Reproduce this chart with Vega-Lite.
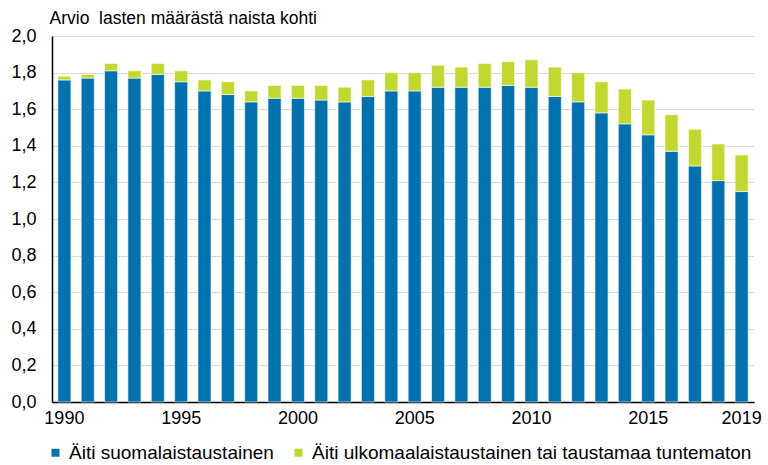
{
  "$schema": "https://vega.github.io/schema/vega-lite/v6.json",
  "autosize": "none",
  "width": 702,
  "height": 366,
  "padding": {"left": 52, "top": 36, "right": 14, "bottom": 63},
  "background": "white",
  "config": {
    "font": "Liberation Sans",
    "view": {"stroke": null}
  },
  "data": {
    "values": [
      {"year": 1990, "series": "Äiti suomalaistaustainen", "ord": 1, "value": 1.76},
      {"year": 1991, "series": "Äiti suomalaistaustainen", "ord": 1, "value": 1.77},
      {"year": 1992, "series": "Äiti suomalaistaustainen", "ord": 1, "value": 1.81},
      {"year": 1993, "series": "Äiti suomalaistaustainen", "ord": 1, "value": 1.77},
      {"year": 1994, "series": "Äiti suomalaistaustainen", "ord": 1, "value": 1.79},
      {"year": 1995, "series": "Äiti suomalaistaustainen", "ord": 1, "value": 1.75},
      {"year": 1996, "series": "Äiti suomalaistaustainen", "ord": 1, "value": 1.70},
      {"year": 1997, "series": "Äiti suomalaistaustainen", "ord": 1, "value": 1.68},
      {"year": 1998, "series": "Äiti suomalaistaustainen", "ord": 1, "value": 1.64},
      {"year": 1999, "series": "Äiti suomalaistaustainen", "ord": 1, "value": 1.66},
      {"year": 2000, "series": "Äiti suomalaistaustainen", "ord": 1, "value": 1.66},
      {"year": 2001, "series": "Äiti suomalaistaustainen", "ord": 1, "value": 1.65},
      {"year": 2002, "series": "Äiti suomalaistaustainen", "ord": 1, "value": 1.64},
      {"year": 2003, "series": "Äiti suomalaistaustainen", "ord": 1, "value": 1.67},
      {"year": 2004, "series": "Äiti suomalaistaustainen", "ord": 1, "value": 1.70},
      {"year": 2005, "series": "Äiti suomalaistaustainen", "ord": 1, "value": 1.70},
      {"year": 2006, "series": "Äiti suomalaistaustainen", "ord": 1, "value": 1.72},
      {"year": 2007, "series": "Äiti suomalaistaustainen", "ord": 1, "value": 1.72},
      {"year": 2008, "series": "Äiti suomalaistaustainen", "ord": 1, "value": 1.72},
      {"year": 2009, "series": "Äiti suomalaistaustainen", "ord": 1, "value": 1.73},
      {"year": 2010, "series": "Äiti suomalaistaustainen", "ord": 1, "value": 1.72},
      {"year": 2011, "series": "Äiti suomalaistaustainen", "ord": 1, "value": 1.67},
      {"year": 2012, "series": "Äiti suomalaistaustainen", "ord": 1, "value": 1.64},
      {"year": 2013, "series": "Äiti suomalaistaustainen", "ord": 1, "value": 1.58},
      {"year": 2014, "series": "Äiti suomalaistaustainen", "ord": 1, "value": 1.52},
      {"year": 2015, "series": "Äiti suomalaistaustainen", "ord": 1, "value": 1.46},
      {"year": 2016, "series": "Äiti suomalaistaustainen", "ord": 1, "value": 1.37},
      {"year": 2017, "series": "Äiti suomalaistaustainen", "ord": 1, "value": 1.29},
      {"year": 2018, "series": "Äiti suomalaistaustainen", "ord": 1, "value": 1.21},
      {"year": 2019, "series": "Äiti suomalaistaustainen", "ord": 1, "value": 1.15},
      {"year": 1990, "series": "Äiti ulkomaalaistaustainen tai taustamaa tuntematon", "ord": 2, "value": 0.02},
      {"year": 1991, "series": "Äiti ulkomaalaistaustainen tai taustamaa tuntematon", "ord": 2, "value": 0.02},
      {"year": 1992, "series": "Äiti ulkomaalaistaustainen tai taustamaa tuntematon", "ord": 2, "value": 0.04},
      {"year": 1993, "series": "Äiti ulkomaalaistaustainen tai taustamaa tuntematon", "ord": 2, "value": 0.04},
      {"year": 1994, "series": "Äiti ulkomaalaistaustainen tai taustamaa tuntematon", "ord": 2, "value": 0.06},
      {"year": 1995, "series": "Äiti ulkomaalaistaustainen tai taustamaa tuntematon", "ord": 2, "value": 0.06},
      {"year": 1996, "series": "Äiti ulkomaalaistaustainen tai taustamaa tuntematon", "ord": 2, "value": 0.06},
      {"year": 1997, "series": "Äiti ulkomaalaistaustainen tai taustamaa tuntematon", "ord": 2, "value": 0.07},
      {"year": 1998, "series": "Äiti ulkomaalaistaustainen tai taustamaa tuntematon", "ord": 2, "value": 0.06},
      {"year": 1999, "series": "Äiti ulkomaalaistaustainen tai taustamaa tuntematon", "ord": 2, "value": 0.07},
      {"year": 2000, "series": "Äiti ulkomaalaistaustainen tai taustamaa tuntematon", "ord": 2, "value": 0.07},
      {"year": 2001, "series": "Äiti ulkomaalaistaustainen tai taustamaa tuntematon", "ord": 2, "value": 0.08},
      {"year": 2002, "series": "Äiti ulkomaalaistaustainen tai taustamaa tuntematon", "ord": 2, "value": 0.08},
      {"year": 2003, "series": "Äiti ulkomaalaistaustainen tai taustamaa tuntematon", "ord": 2, "value": 0.09},
      {"year": 2004, "series": "Äiti ulkomaalaistaustainen tai taustamaa tuntematon", "ord": 2, "value": 0.10},
      {"year": 2005, "series": "Äiti ulkomaalaistaustainen tai taustamaa tuntematon", "ord": 2, "value": 0.10},
      {"year": 2006, "series": "Äiti ulkomaalaistaustainen tai taustamaa tuntematon", "ord": 2, "value": 0.12},
      {"year": 2007, "series": "Äiti ulkomaalaistaustainen tai taustamaa tuntematon", "ord": 2, "value": 0.11},
      {"year": 2008, "series": "Äiti ulkomaalaistaustainen tai taustamaa tuntematon", "ord": 2, "value": 0.13},
      {"year": 2009, "series": "Äiti ulkomaalaistaustainen tai taustamaa tuntematon", "ord": 2, "value": 0.13},
      {"year": 2010, "series": "Äiti ulkomaalaistaustainen tai taustamaa tuntematon", "ord": 2, "value": 0.15},
      {"year": 2011, "series": "Äiti ulkomaalaistaustainen tai taustamaa tuntematon", "ord": 2, "value": 0.16},
      {"year": 2012, "series": "Äiti ulkomaalaistaustainen tai taustamaa tuntematon", "ord": 2, "value": 0.16},
      {"year": 2013, "series": "Äiti ulkomaalaistaustainen tai taustamaa tuntematon", "ord": 2, "value": 0.17},
      {"year": 2014, "series": "Äiti ulkomaalaistaustainen tai taustamaa tuntematon", "ord": 2, "value": 0.19},
      {"year": 2015, "series": "Äiti ulkomaalaistaustainen tai taustamaa tuntematon", "ord": 2, "value": 0.19},
      {"year": 2016, "series": "Äiti ulkomaalaistaustainen tai taustamaa tuntematon", "ord": 2, "value": 0.20},
      {"year": 2017, "series": "Äiti ulkomaalaistaustainen tai taustamaa tuntematon", "ord": 2, "value": 0.20},
      {"year": 2018, "series": "Äiti ulkomaalaistaustainen tai taustamaa tuntematon", "ord": 2, "value": 0.20},
      {"year": 2019, "series": "Äiti ulkomaalaistaustainen tai taustamaa tuntematon", "ord": 2, "value": 0.20}
    ]
  },
  "mark": {"type": "bar", "stroke": "white", "strokeWidth": 0.6},
  "encoding": {
    "x": {
      "field": "year",
      "type": "ordinal",
      "scale": {"paddingInner": 0.44, "paddingOuter": 0.25},
      "axis": {
        "title": null,
        "values": [1990, 1995, 2000, 2005, 2010, 2015, 2019],
        "labelAngle": 0,
        "ticks": false,
        "labelPadding": 7,
        "labelFontSize": 18,
        "labelColor": "#000000",
        "domainColor": "#000000",
        "domainWidth": 1.5
      }
    },
    "y": {
      "field": "value",
      "type": "quantitative",
      "stack": "zero",
      "scale": {"domain": [0, 2], "nice": false},
      "axis": {
        "title": "Arvio\u00a0 lasten määrästä naista kohti",
        "titleAngle": 0,
        "titleAlign": "left",
        "titleBaseline": "bottom",
        "titleX": -3,
        "titleY": -9,
        "titleFontSize": 17.5,
        "titleFontWeight": "normal",
        "titleColor": "#000000",
        "values": [0, 0.2, 0.4, 0.6, 0.8, 1.0, 1.2, 1.4, 1.6, 1.8, 2.0],
        "labelExpr": "replace(format(datum.value, '.1f'), '.', ',')",
        "labelFontSize": 18,
        "labelColor": "#000000",
        "labelPadding": 16,
        "ticks": false,
        "domainColor": "#000000",
        "domainWidth": 1.5,
        "grid": true,
        "gridColor": "#c8c8c8",
        "gridDash": [2, 1]
      }
    },
    "color": {
      "field": "series",
      "type": "nominal",
      "scale": {
        "domain": ["Äiti suomalaistaustainen", "Äiti ulkomaalaistaustainen tai taustamaa tuntematon"],
        "range": ["#0072AF", "#C3D82E"]
      },
      "legend": {
        "title": null,
        "orient": "none",
        "direction": "horizontal",
        "legendX": -6,
        "legendY": 407,
        "symbolType": "square",
        "symbolSize": 64,
        "symbolStrokeWidth": 0,
        "labelFontSize": 19,
        "labelLimit": 0,
        "labelColor": "#000000",
        "labelOffset": 4,
        "columnPadding": 15
      }
    },
    "order": {"field": "ord", "type": "quantitative"}
  }
}
